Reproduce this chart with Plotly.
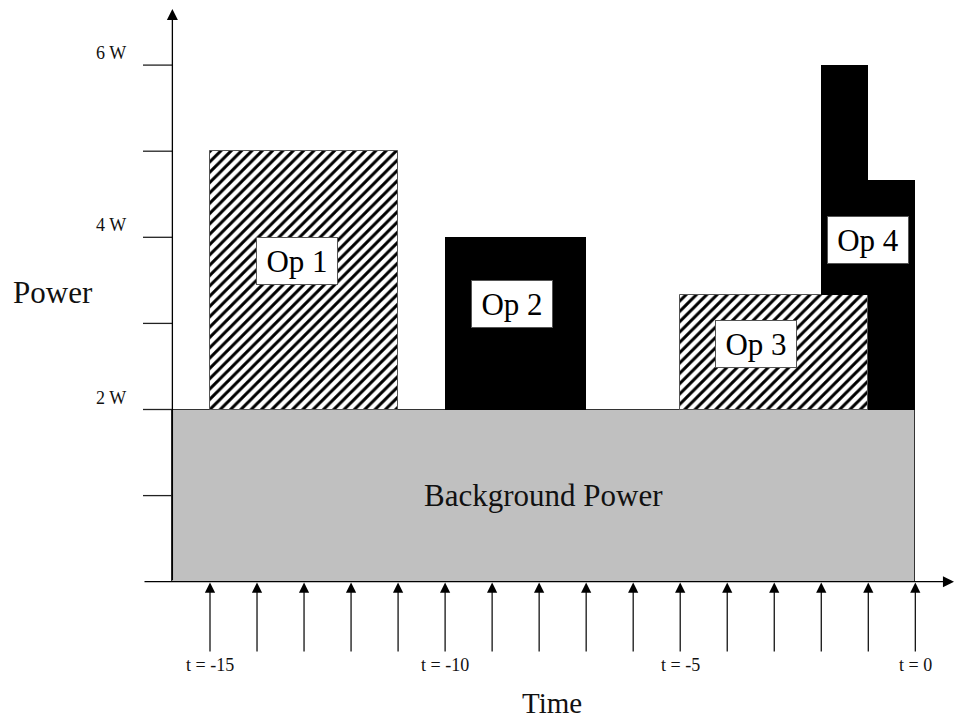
import plotly.graph_objects as go

# ---------------- data ----------------
op_names = ["Op 1", "Op 2", "Op 3", "Op 4", "Op 4"]
op_start = [-15, -10, -5, -2, -1]
op_end = [-11, -7, -1, -1, 0]
op_low = [2, 2, 2, 3.33, 2]
op_high = [5, 4, 3.33, 6, 4.67]
op_hatched = [True, False, True, False, False]

background_label = "Background Power"
background_start = -15.8
background_end = 0
background_low = 0
background_high = 2

sample_times = [-15, -14, -13, -12, -11, -10, -9, -8, -7, -6, -5, -4, -3, -2, -1, 0]
time_tick_values = [-15, -10, -5, 0]
time_tick_labels = ["t = -15", "t = -10", "t = -5", "t = 0"]
power_tick_values = [1, 2, 3, 4, 5, 6]
power_tick_labels = ["", "2 W", "", "4 W", "", "6 W"]

# label box centres (layout) for each operation name
label_names = ["Op 1", "Op 2", "Op 3", "Op 4"]
label_t = [-13.14, -8.58, -3.38, -1.0]
label_w = [3.72, 3.22, 2.755, 3.97]

# ---------------- layout geometry ----------------
W, H = 955, 721
X0, PX_T = 915.3, 47.02   # pixel of t=0, pixels per time unit
Y0, PX_W = 581.7, 86.1    # pixel of 0 W, pixels per watt
x_range = [-X0 / PX_T, (W - X0) / PX_T]
y_range = [-(H - Y0) / PX_W, Y0 / PX_W]

def tx(px):
    return (px - X0) / PX_T

def wy(py):
    return (Y0 - py) / PX_W

FONT = "Liberation Serif, Times New Roman, serif"
AX = "#222222"

fig = go.Figure()

# background power
fig.add_trace(go.Bar(
    x=[(background_start + background_end) / 2],
    y=[background_high - background_low],
    base=[background_low],
    width=[background_end - background_start],
    marker=dict(color="#c0c0c0", line=dict(color="#333333", width=1)),
    hoverinfo="skip",
))

for name, s, e, lo, hi, hatch in zip(op_names, op_start, op_end, op_low, op_high, op_hatched):
    if hatch:
        marker = dict(color="white",
                      pattern=dict(shape="/", fgcolor="black", bgcolor="white",
                                   size=7.3, solidity=0.42, fillmode="replace"),
                      line=dict(color="#555555", width=1))
    else:
        marker = dict(color="black", line=dict(color="black", width=0))
    fig.add_trace(go.Bar(x=[(s + e) / 2], y=[hi - lo], base=[lo], width=[e - s],
                         marker=marker, name=name, hoverinfo="skip"))

shapes = []
annotations = []

axis_t = background_start
tick_left_t = tx(143)

# y ticks
for v in power_tick_values:
    shapes.append(dict(type="line", xref="x", yref="y", x0=tick_left_t, x1=axis_t,
                       y0=v, y1=v, line=dict(color=AX, width=1.3)))
for v, lab in zip(power_tick_values, power_tick_labels):
    if lab:
        annotations.append(dict(x=tx(128), y=v, xref="x", yref="y", text=lab,
                                showarrow=False, xanchor="right", yanchor="middle",
                                yshift=12, font=dict(family=FONT, size=18, color="#111")))

# x axis with arrow
annotations.append(dict(x=tx(954), y=0, ax=tick_left_t, ay=0, xref="x", yref="y",
                        axref="x", ayref="y", text="", showarrow=True,
                        arrowhead=2, arrowsize=1.7, arrowwidth=1.3, arrowcolor="black"))
# y axis with arrow
annotations.append(dict(x=axis_t, y=wy(9), ax=axis_t, ay=0, xref="x", yref="y",
                        axref="x", ayref="y", text="", showarrow=True,
                        arrowhead=2, arrowsize=1.7, arrowwidth=1.3, arrowcolor="black"))

# sampling arrows under time axis
for t in sample_times:
    annotations.append(dict(x=t, y=wy(582.5), ax=t, ay=wy(653), xref="x", yref="y",
                            axref="x", ayref="y", text="", showarrow=True,
                            arrowhead=2, arrowsize=1.7, arrowwidth=1.2, arrowcolor="black"))
for t, lab in zip(time_tick_values, time_tick_labels):
    annotations.append(dict(x=t, y=wy(665), xref="x", yref="y", text=lab, showarrow=False,
                            xanchor="center", yanchor="middle",
                            font=dict(family=FONT, size=18, color="#111")))

# op labels in white boxes
for lab, t, w in zip(label_names, label_t, label_w):
    annotations.append(dict(x=t, y=w, xref="x", yref="y", text=lab, showarrow=False,
                            xanchor="center", yanchor="middle", width=80, height=46,
                            bgcolor="white", bordercolor="#555555", borderwidth=1, borderpad=0,
                            font=dict(family=FONT, size=31, color="black")))

# background label
annotations.append(dict(x=(background_start + background_end) / 2,
                        y=(background_low + background_high) / 2, xref="x", yref="y",
                        text=background_label, showarrow=False,
                        font=dict(family=FONT, size=31, color="#111")))

# axis titles
annotations.append(dict(x=tx(53), y=wy(292), xref="x", yref="y", text="Power",
                        showarrow=False, font=dict(family=FONT, size=31, color="#111")))
annotations.append(dict(x=tx(552), y=wy(703), xref="x", yref="y", text="Time",
                        showarrow=False, font=dict(family=FONT, size=29, color="#111")))

fig.update_layout(
    width=W, height=H, autosize=False,
    margin=dict(l=0, r=0, t=0, b=0),
    paper_bgcolor="white", plot_bgcolor="white",
    barmode="overlay", bargap=0, showlegend=False,
    xaxis=dict(range=x_range, visible=False, fixedrange=True),
    yaxis=dict(range=y_range, visible=False, fixedrange=True),
    shapes=shapes, annotations=annotations,
)

fig.write_html("out.html", config={"displayModeBar": False},
               post_script="document.body.style.margin='0';")
